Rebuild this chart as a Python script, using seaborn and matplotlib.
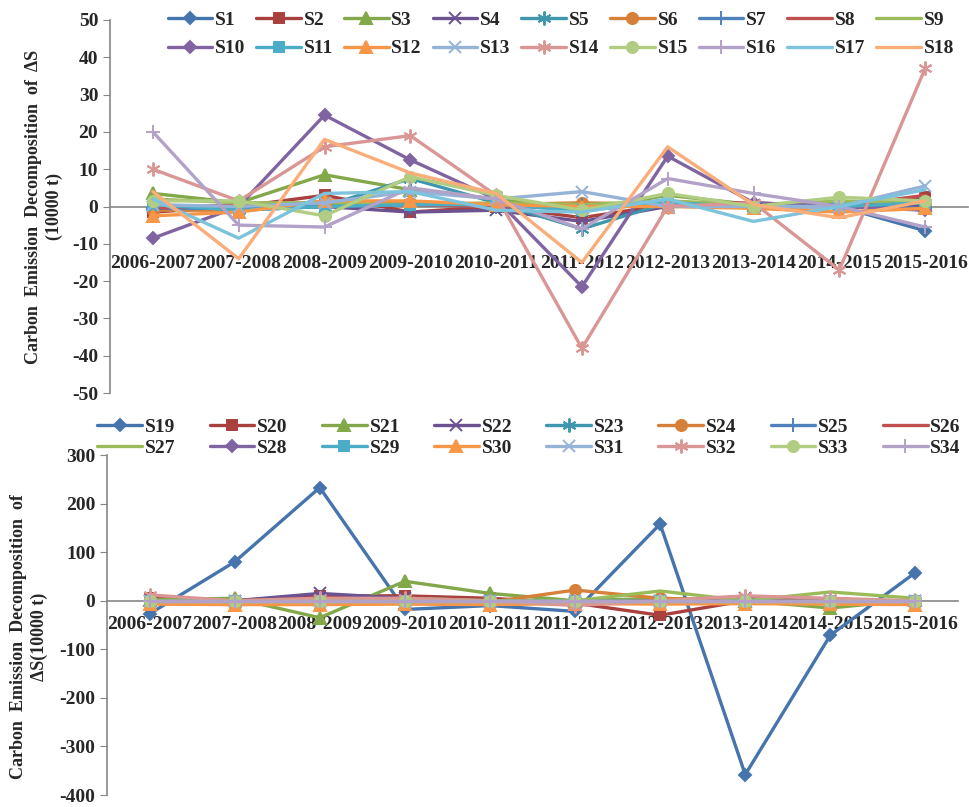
import matplotlib
matplotlib.use("Agg")
import matplotlib.pyplot as plt
from matplotlib.ticker import MultipleLocator, FixedLocator
import seaborn as sns

periods = ["2006-2007", "2007-2008", "2008-2009", "2009-2010", "2010-2011",
           "2011-2012", "2012-2013", "2013-2014", "2014-2015", "2015-2016"]

# top panel, S1..S18 (10000 t)
S1 = [-1, -0.5, 0, 1, 0.5, -1, 1, 0, 0, -6.5]
S2 = [-1.5, 0, 3, -1.5, 0, -3, 0.5, 0, 0, 2.5]
S3 = [3.5, 1, 8.5, 4.5, 2, -1, 3, 0.5, 1, 0.5]
S4 = [0, 0, 0, -1.5, -1, -4, 0, 0.5, 0, 0]
S5 = [0.5, -1, 0, 7.5, 1, -6, 1, 0, 0.5, 1]
S6 = [-1, -1, 1.5, 1, 0.5, 1, 0.5, 0, 0, 1]
S7 = [-0.5, -0.5, 0, 0.5, 0, 0.5, 0.5, 0, 0, -0.5]
S8 = [-0.5, 0.5, 1, 0.5, 0, 0.5, 1, 1, 0, 3]
S9 = [2, 1, 1, 0.5, 1, 0.5, 1.5, 0.5, 1.5, 1]
S10 = [-8.5, 0, 24.5, 12.5, 2, -21.5, 13.5, 1, 0, -1]
S11 = [0.5, -1, 0, 0.5, 0.5, -1, 1, 0, 0, 1]
S12 = [-2.5, -1.5, 1.5, 1.5, 0.5, 0, 0, -0.5, -1.5, -0.5]
S13 = [0.5, 0, 1, 4, 2, 4, 0, 0, 0, 5.5]
S14 = [10, 1.5, 16, 19, 3, -38, 0, 1, -17, 37]
S15 = [1.5, 1.5, -2.5, 8, 3, -1, 3.5, 0, 2.5, 1.5]
S16 = [20, -5, -5.5, 5, 2, -6, 7.5, 3.5, 0, -5.5]
S17 = [2, -8.5, 3.5, 4, -1, -1.5, 2, -4, 0, 4.5]
S18 = [4, -14, 18, 9, 3.5, -15, 16, 0.5, -3, 1.5]

# bottom panel, S19..S34 (10000 t)
S19 = [-27, 80, 233, -18, -10, -22, 158, -358, -71, 58]
S20 = [5, 0, 10, 10, 5, -5, -30, 0, 0, 0]
S21 = [2, 5, -35, 40, 15, 0, 5, 0, -15, 2]
S22 = [0, 0, 15, 5, 0, -5, 0, 5, 0, 0]
S23 = [0, 0, 0, 0, 0, 0, 0, 0, 0, 0]
S24 = [-5, -8, -5, -5, -3, 22, 5, 0, 0, -5]
S25 = [0, 0, 0, 0, 0, 0, 0, 0, 0, 0]
S26 = [0, 0, 5, 0, 0, -5, 0, 0, 0, 0]
S27 = [0, 0, 0, 5, 0, 0, 20, 0, 18, 5]
S28 = [0, 0, 0, 0, 0, 0, 0, 0, 0, 0]
S29 = [0, 0, 0, 0, 0, 0, 0, 0, 0, 0]
S30 = [-7, -8, -8, -7, -8, -6, -7, -6, -7, -8]
S31 = [0, 0, 0, 0, 0, 0, 0, 0, 0, 0]
S32 = [12, 0, 5, 5, 0, -10, 0, 10, 5, 0]
S33 = [0, 0, 0, 0, 0, 0, 0, 0, 0, 0]
S34 = [0, 0, 0, 0, 0, 0, 0, 0, 0, 0]

top_series = [S1, S2, S3, S4, S5, S6, S7, S8, S9,
              S10, S11, S12, S13, S14, S15, S16, S17, S18]
bottom_series = [S19, S20, S21, S22, S23, S24, S25, S26,
                 S27, S28, S29, S30, S31, S32, S33, S34]

colors = ["#4674AD", "#A9403D", "#82A84A", "#6C5290", "#3E97AD", "#D6803A",
          "#4F81BD", "#C0504D", "#9BBB59", "#8064A2", "#4BACC6", "#F79646",
          "#95B3D7", "#D99694", "#B0CD82", "#B3A2C7", "#7CC3DB", "#F9AE7A"]
markers = ["D", "s", "^", "x", (6, 2, 0), "o", "+", None, None]
msizes = {"D": 6, "s": 6.5, "^": 8, "x": 8, "o": 8, "+": 10}

sns.set_style("white")
plt.rcParams["font.family"] = ["Liberation Serif", "DejaVu Serif"]
plt.rcParams["font.weight"] = "bold"
plt.rcParams["axes.unicode_minus"] = False

fig = plt.figure(figsize=(9.7, 8.07), dpi=100)
ax1 = fig.add_axes([110 / 970, 1 - 393 / 807, 858 / 970, 373 / 807])
ax2 = fig.add_axes([107 / 970, 1 - 795 / 807, 851 / 970, 340 / 807])


def draw(ax, series, first):
    for k, vals in enumerate(series):
        m = markers[k % 9]
        ms = msizes.get(m, 10) if m is not None else 0
        sns.lineplot(x=periods, y=vals, ax=ax, color=colors[k % 18], lw=2.4,
                     marker=m, markersize=ms, markeredgewidth=1.4,
                     markeredgecolor=colors[k % 18], sort=False,
                     label=f"S{first + k}")
    if ax.get_legend() is not None:
        ax.get_legend().remove()


def style(ax, lo, hi, step, pad):
    ax.set_xlim(-0.5, 9.5)
    ax.set_ylim(lo, hi)
    ax.yaxis.set_major_locator(MultipleLocator(step))
    ax.spines["top"].set_visible(False)
    ax.spines["right"].set_visible(False)
    ax.spines["bottom"].set_position(("data", 0))
    for s in ("left", "bottom"):
        ax.spines[s].set_color("#868686")
        ax.spines[s].set_linewidth(1.2)
        ax.spines[s].set_zorder(0)
    ax.xaxis.set_minor_locator(FixedLocator([x - 0.5 for x in range(11)]))
    ax.tick_params(axis="x", which="major", length=0, pad=pad, labelsize=14)
    ax.tick_params(axis="x", which="minor", length=6, color="#868686", direction="out")
    ax.tick_params(axis="y", length=5, color="#868686", direction="out", labelsize=14, left=True)
    for t in ax.get_xticklabels() + ax.get_yticklabels():
        t.set_fontweight("bold")
    ax.set_xlabel("")
    ax.set_ylabel("")


def row_order(items, ncol):
    nrow = -(-len(items) // ncol)
    out = []
    for c in range(ncol):
        for r in range(nrow):
            j = r * ncol + c
            if j < len(items):
                out.append(items[j])
    return out


draw(ax1, top_series, 1)
draw(ax2, bottom_series, 19)
style(ax1, -50, 50, 10, 35)
style(ax2, -400, 300, 100, 11)

h, l = ax1.get_legend_handles_labels()
fig.legend(row_order(h, 9), row_order(l, 9), ncol=9, loc="upper left",
           bbox_to_anchor=(150 / 970, 1 + 6 / 807), frameon=False,
           prop={"size": 14, "weight": "bold"}, handlelength=2.3,
           handletextpad=0.15, columnspacing=0.55, labelspacing=0.55)

h, l = ax2.get_legend_handles_labels()
fig.legend(row_order(h, 8), row_order(l, 8), ncol=8, loc="upper left",
           bbox_to_anchor=(80 / 970, 1 - 401 / 807), frameon=False,
           prop={"size": 14, "weight": "bold"}, handlelength=2.3,
           handletextpad=0.15, columnspacing=1.75, labelspacing=0.15)

fig.text(44 / 970, 1 - 207 / 807,
         "Carbon  Emission  Decomposition  of  \u0394S\n(10000 t)",
         rotation=90, ha="center", va="center", ma="center",
         fontsize=13, fontweight="bold", linespacing=1.3)
fig.text(29 / 970, 1 - 637 / 807,
         "Carbon  Emission  Decomposition  of\n\u0394S(10000 t)",
         rotation=90, ha="center", va="center", ma="center",
         fontsize=13, fontweight="bold", linespacing=1.3)

fig.savefig("out.png", dpi=100, facecolor="white")
